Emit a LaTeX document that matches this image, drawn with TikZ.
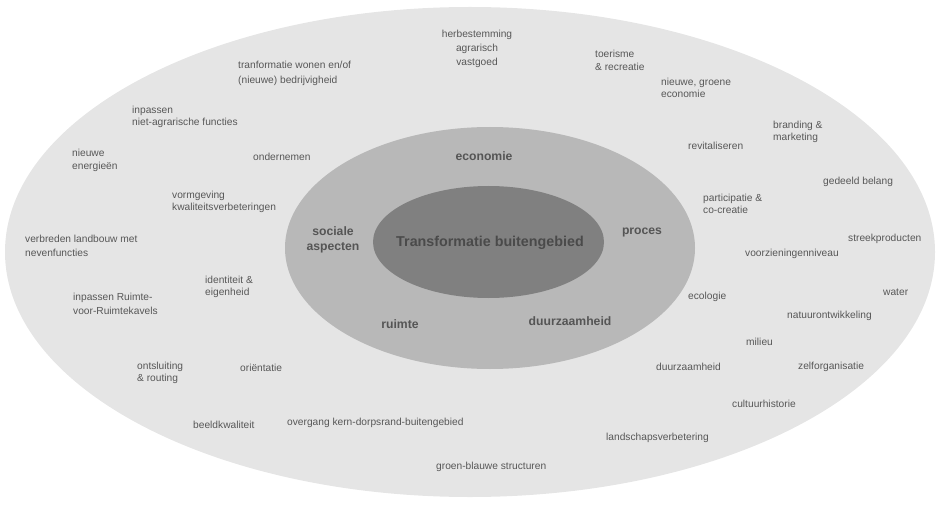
\documentclass[tikz,border=0pt]{standalone}
\usepackage{fontspec}
\setmainfont{Liberation Sans}
\definecolor{outerc}{HTML}{E5E5E5}
\definecolor{midc}{HTML}{B8B8B8}
\definecolor{innerc}{HTML}{808080}
\definecolor{txtc}{HTML}{575757}
\definecolor{boldc}{HTML}{555555}
\definecolor{ctrc}{HTML}{4A4A4A}
\tikzset{
  lbl/.style={inner sep=0pt, anchor=west, align=left, text=txtc, font=\fontsize{10.2}{12.5}\selectfont},
  clbl/.style={inner sep=0pt, anchor=center, align=center, text=txtc, font=\fontsize{10.2}{14}\selectfont},
  blbl/.style={inner sep=0pt, anchor=center, align=center, text=boldc, font=\fontsize{12.2}{15}\selectfont\bfseries},
  ctr/.style={inner sep=0pt, anchor=center, text=ctrc, font=\fontsize{14.3}{17}\selectfont\bfseries},
  ls/.style={font=\fontsize{10.2}{#1}\selectfont}
}
\begin{document}
\begin{tikzpicture}[x=1pt,y=-1pt]
\useasboundingbox (0,0) rectangle (939,505);
\fill[outerc] (470,252) ellipse [x radius=465pt, y radius=245pt];
\fill[midc] (490,248) ellipse [x radius=205pt, y radius=121pt];
\fill[innerc] (488.5,242) ellipse [x radius=115.5pt, y radius=56pt];

\node[ctr] (center) at (490,243) {Transformatie buitengebied};
\node[blbl] (econ) at (484,156) {economie};
\node[blbl] (soc) at (333,239.5) {sociale\\aspecten};
\node[blbl] (proc) at (642,232) {proces};
\node[blbl] (ruim) at (400,324) {ruimte};
\node[blbl] (duurb) at (570,321) {duurzaamheid};

\node[clbl] (herb) at (477,49) {herbestemming\\agrarisch\\vastgoed};
\node[lbl, ls=15] (tranf) at (238,73.5) {tranformatie wonen en/of\\(nieuwe) bedrijvigheid};
\node[lbl, ls=12.5] (toer) at (595,60.5) {toerisme\\\& recreatie};
\node[lbl, ls=12] (groen) at (661,88) {nieuwe, groene\\economie};
\node[lbl, ls=12] (inpn) at (132,117) {inpassen\\niet-agrarische functies};
\node[lbl, ls=12] (brand) at (773,131.5) {branding \&\\marketing};
\node[lbl] (revit) at (688,146) {revitaliseren};
\node[lbl, ls=13] (energ) at (72,160.5) {nieuwe\\energieën};
\node[lbl] (onder) at (253,157) {ondernemen};
\node[lbl] (gedeeld) at (823,182) {gedeeld belang};
\node[lbl, ls=12] (vorm) at (172,202) {vormgeving\\kwaliteitsverbeteringen};
\node[lbl, ls=12] (part) at (703,204) {participatie \&\\co-creatie};
\node[lbl, ls=14.5] (verb) at (25,246) {verbreden landbouw met\\nevenfuncties};
\node[lbl] (streek) at (848,239) {streekproducten};
\node[lbl] (voorz) at (745,254) {voorzieningenniveau};
\node[lbl, ls=12.5] (ident) at (205,287) {identiteit \&\\eigenheid};
\node[lbl, ls=14.5] (rvr) at (73,304) {inpassen Ruimte-\\voor-Ruimtekavels};
\node[lbl] (water) at (883,292) {water};
\node[lbl] (ecol) at (688,297) {ecologie};
\node[lbl] (natuur) at (787,316) {natuurontwikkeling};
\node[lbl] (milieu) at (746,342) {milieu};
\node[lbl, ls=12] (onts) at (137,372.5) {ontsluiting\\\& routing};
\node[lbl] (orient) at (240,368) {oriëntatie};
\node[lbl] (duurz) at (656,367) {duurzaamheid};
\node[lbl] (zelf) at (798,367) {zelforganisatie};
\node[lbl] (cult) at (732,404) {cultuurhistorie};
\node[lbl] (beeld) at (193,425) {beeldkwaliteit};
\node[lbl] (overg) at (287,423) {overgang kern-dorpsrand-buitengebied};
\node[lbl] (landsch) at (606,438) {landschapsverbetering};
\node[lbl] (groenbl) at (436,467) {groen-blauwe structuren};
\end{tikzpicture}
\end{document}
